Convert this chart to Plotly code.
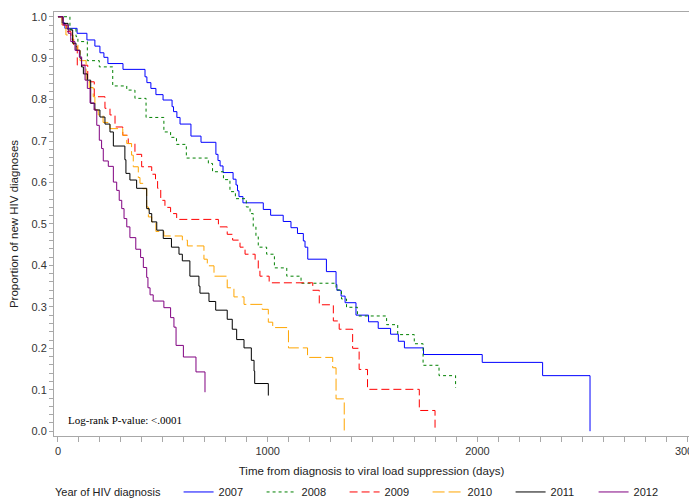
import plotly.graph_objects as go

years = ["2007", "2008", "2009", "2010", "2011", "2012"]
colors = ["#0000ff", "#008000", "#ff0000", "#ffa500", "#000000", "#800080"]
dashes = ["solid", "3px,3px", "8px,4px", "12px,4px", "solid", "solid"]

t2007 = [0, 19, 33, 91, 138, 176, 200, 219, 238, 310, 415, 424, 443, 467, 501, 544, 551, 567, 582, 634,
         682, 753, 763, 773, 787, 835, 849, 856, 863, 882, 979, 1014, 1074, 1111, 1142, 1170, 1178, 1191,
         1280, 1326, 1330, 1350, 1369, 1421, 1481, 1527, 1586, 1623, 1652, 1743, 2023, 2311, 2537]
s2007 = [1.0, 0.985, 0.972, 0.96, 0.944, 0.929, 0.913, 0.902, 0.887, 0.873, 0.855, 0.841, 0.827, 0.812,
         0.799, 0.783, 0.771, 0.757, 0.741, 0.712, 0.697, 0.668, 0.653, 0.64, 0.624, 0.608, 0.594, 0.58,
         0.566, 0.551, 0.535, 0.521, 0.506, 0.491, 0.477, 0.459, 0.444, 0.415, 0.385, 0.354, 0.340, 0.326,
         0.310, 0.280, 0.264, 0.248, 0.234, 0.217, 0.201, 0.185, 0.166, 0.134, 0.0]

t2008 = [0, 57, 86, 95, 140, 197, 261, 328, 367, 420, 505, 537, 565, 612, 717, 737, 789, 820, 846, 898,
         916, 931, 944, 955, 995, 1032, 1091, 1159, 1326, 1352, 1376, 1428, 1567, 1620, 1699, 1741, 1817, 1896]
s2008 = [1.0, 0.97, 0.952, 0.94, 0.894, 0.879, 0.833, 0.823, 0.803, 0.757, 0.722, 0.709, 0.692, 0.659,
         0.646, 0.626, 0.607, 0.578, 0.561, 0.541, 0.525, 0.493, 0.469, 0.444, 0.427, 0.394, 0.374, 0.357,
         0.341, 0.319, 0.299, 0.278, 0.257, 0.233, 0.211, 0.159, 0.134, 0.105]

t2009 = [0, 20, 40, 62, 75, 92, 142, 173, 224, 248, 272, 309, 335, 367, 399, 447, 465, 475, 490, 510,
         537, 566, 765, 807, 833, 868, 892, 940, 955, 963, 1007, 1215, 1246, 1313, 1341, 1405, 1436, 1476,
         1723, 1798]
s2009 = [1.0, 0.98, 0.964, 0.946, 0.928, 0.883, 0.843, 0.807, 0.779, 0.763, 0.734, 0.714, 0.694, 0.668,
         0.638, 0.62, 0.606, 0.586, 0.557, 0.540, 0.525, 0.511, 0.493, 0.475, 0.461, 0.444, 0.427, 0.412,
         0.392, 0.374, 0.358, 0.340, 0.305, 0.266, 0.246, 0.200, 0.149, 0.101, 0.050, 0.0]

t2010 = [0, 19, 38, 72, 95, 105, 134, 149, 168, 176, 192, 215, 248, 309, 328, 351, 359, 383, 391, 404,
         423, 431, 447, 467, 505, 593, 617, 696, 712, 744, 807, 839, 887, 974, 1003, 1024, 1099, 1190, 1310,
         1326, 1365]
s2010 = [1.0, 0.978, 0.956, 0.935, 0.919, 0.894, 0.847, 0.829, 0.807, 0.775, 0.763, 0.745, 0.730, 0.714,
         0.694, 0.666, 0.638, 0.612, 0.598, 0.585, 0.541, 0.517, 0.505, 0.482, 0.471, 0.461, 0.447, 0.415,
         0.399, 0.374, 0.346, 0.324, 0.306, 0.294, 0.263, 0.250, 0.201, 0.178, 0.153, 0.078, 0.0]

t2011 = [0, 24, 48, 70, 86, 105, 112, 121, 140, 156, 176, 200, 224, 248, 264, 319, 324, 343, 375, 423,
         435, 447, 471, 502, 541, 577, 593, 629, 672, 677, 720, 752, 807, 831, 852, 887, 922, 935, 938, 1003]
s2011 = [1.0, 0.984, 0.968, 0.936, 0.919, 0.9, 0.879, 0.862, 0.847, 0.791, 0.775, 0.758, 0.741, 0.722,
         0.688, 0.655, 0.622, 0.606, 0.586, 0.537, 0.525, 0.505, 0.485, 0.465, 0.444, 0.427, 0.411, 0.374,
         0.350, 0.333, 0.313, 0.292, 0.270, 0.246, 0.221, 0.201, 0.171, 0.145, 0.115, 0.086]

t2012 = [0, 25, 49, 61, 81, 102, 113, 129, 140, 153, 172, 185, 197, 208, 216, 240, 264, 280, 292, 304,
         315, 328, 343, 371, 394, 407, 423, 429, 439, 454, 505, 537, 553, 563, 598, 658, 701]
s2012 = [1.0, 0.98, 0.96, 0.94, 0.919, 0.903, 0.883, 0.847, 0.827, 0.792, 0.775, 0.738, 0.702, 0.682,
         0.652, 0.639, 0.601, 0.581, 0.557, 0.537, 0.513, 0.493, 0.467, 0.439, 0.419, 0.395, 0.371, 0.346,
         0.329, 0.314, 0.298, 0.274, 0.251, 0.207, 0.179, 0.143, 0.094]

times = [t2007, t2008, t2009, t2010, t2011, t2012]
surv = [s2007, s2008, s2009, s2010, s2011, s2012]

x_title = "Time from diagnosis to viral load suppression (days)"
y_title = "Proportion of new HIV diagnoses"
legend_title = "Year of HIV diagnosis"
pvalue_text = "Log-rank P-value: <.0001"

axis_gray = "#a8a8a8"
sans = "Liberation Sans, Arial, sans-serif"

fig = go.Figure()
for yr, c, d, t, s in zip(years, colors, dashes, times, surv):
    fig.add_trace(go.Scatter(x=t, y=s, mode="lines", name=yr,
                             line=dict(shape="hv", color=c, width=1, dash=d)))

# the page body adds an 8px offset; the figure is sized so the plot lands where the reference has it
fig.update_layout(
    width=689, height=496,
    margin=dict(l=46, r=8, t=4, b=68, autoexpand=False),
    plot_bgcolor="white", paper_bgcolor="white",
    font=dict(family=sans, size=11, color="#333333"),
    showlegend=True,
    xaxis=dict(range=[-19, 3009], dtick=1000, tick0=0, ticks="outside", ticklen=5,
               tickcolor=axis_gray, showline=True, linecolor=axis_gray, linewidth=1,
               mirror=True, showgrid=False, zeroline=False, automargin=False,
               ticklabeloverflow="allow",
               minor=dict(dtick=100, tick0=0, ticks="outside", ticklen=5, tickcolor=axis_gray, showgrid=False),
               tickfont=dict(size=11, color="#333333"),
               title=dict(text=x_title, font=dict(size=11.5, color="#222222"), standoff=10)),
    yaxis=dict(range=[-0.0116, 1.0114], dtick=0.1, tick0=0, tickformat=".1f", ticks="outside", ticklen=4,
               tickcolor=axis_gray, showline=True, linecolor=axis_gray, linewidth=1,
               mirror=True, showgrid=False, zeroline=False, automargin=False,
               ticklabeloverflow="allow",
               minor=dict(dtick=0.02, tick0=0, ticks="outside", ticklen=4, tickcolor=axis_gray, showgrid=False),
               tickfont=dict(size=11, color="#333333"),
               title=dict(text=y_title, font=dict(size=11.5, color="#222222"), standoff=10)),
    legend=dict(orientation="h", x=0.1962, xanchor="left", y=-0.132, yanchor="middle",
                entrywidth=38, borderwidth=0, bgcolor="rgba(0,0,0,0)",
                font=dict(size=11, color="#222222"), tracegroupgap=0),
    annotations=[
        dict(text=legend_title, xref="paper", yref="paper", x=-0.0016, y=-0.132,
             xanchor="left", yanchor="middle", showarrow=False,
             font=dict(size=11, color="#222222", family=sans)),
        dict(text=pvalue_text, xref="x", yref="y", x=37, y=0.026, xanchor="left", yanchor="middle",
             showarrow=False, font=dict(size=11, color="#000000", family="Liberation Serif, Times New Roman, serif")),
    ],
)

fig.write_html("out.html")
